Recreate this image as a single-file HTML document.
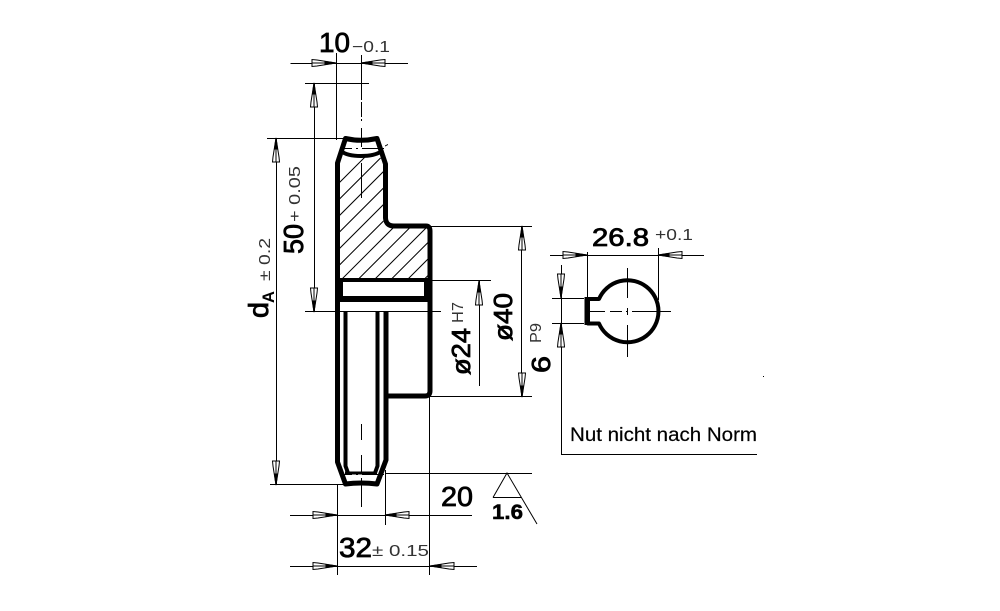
<!DOCTYPE html>
<html><head><meta charset="utf-8"><style>
html,body{margin:0;padding:0;background:#fff;width:1000px;height:611px;overflow:hidden}
svg{display:block}
text{font-family:"Liberation Sans",sans-serif;fill:#000}
.t{stroke:#000;stroke-width:1;fill:none;shape-rendering:crispEdges}
.k{stroke:#000;stroke-width:4;fill:none;stroke-linejoin:round}
.b{font-size:28px;stroke:#000;stroke-width:.8}
.s{font-size:16px;fill:#333}
</style></head><body>
<svg width="1000" height="611" viewBox="0 0 1000 611" xmlns="http://www.w3.org/2000/svg">
<defs>
<g id="a"><path d="M0,0L-19,-3L-24,-3.500L-24,3.500L-19,3Z" fill="#fff" stroke="#000" stroke-width="1"/><path d="M0,0L-11,-1.500L-11,1.500Z" fill="#000" stroke="#000" stroke-width="1"/><path d="M-11,0H-24" stroke="#000" stroke-width="1"/></g>
<clipPath id="h"><path d="M339,158Q361,156 383,158V220Q384,225 391,225H428V279H339Z"/></clipPath>
</defs>

<!-- hatch -->
<g clip-path="url(#h)" stroke="#000" stroke-width="1" fill="none">
<path d="M621,0L321,300M604.500,0L304.500,300M637.500,0L337.500,300M654,0L354,300M670.500,0L370.500,300M687,0L387,300M703.500,0L403.500,300M720,0L420,300M736.500,0L436.500,300M588,0L288,300M571.500,0L271.500,300M555,0L255,300M538.500,0L238.500,300M522,0L222,300"/>
</g>

<!-- thin lines -->
<path class="t" d="M290.500,63.500H408M336.500,53V140M305,83.500H369M267,138.500H345M314.500,83V312M276.500,138V485M305,311.500H441M430,226.500H532M430,396.500H532M430,280.500H491M521.500,226V397M479.500,281V386M429.500,397V575M337.500,485V575M385.500,470V525M385,473.500H532M270,484.500H345M290,515.500H472M290,566.500H477"/>
<path class="t" d="M361.500,55V100M361.500,102V117M361.500,119V121M361.500,128V147M361.500,163V198M361.500,424V440M361.500,455V472M361.500,478V507M340,148.500H352M356,148.500H358M362,148.500H384M385,146L388,144.500M340,474.500H352M356,474.500H358M362,474.500H384"/>

<!-- gear outline -->
<path class="k" style="stroke-width:5" d="M337.500,312V163L345.500,138.500Q361,142 377,138.500L385.500,164V218Q386,226 394,226H426Q430,226 430,231V391Q430,396 425,396H387"/>
<path class="k" d="M341,151Q347,156 361,156Q375,156 382,151"/>
<path class="k" d="M338,280H430"/>
<path class="k" style="stroke-width:6" d="M338,299H430"/>
<rect x="335" y="278" width="8" height="24" fill="#000"/>
<rect x="424" y="278" width="8" height="24" fill="#000"/>
<path class="k" style="stroke-width:5" d="M337.500,312V462L345.500,484Q361,482 377,484L386,460V312"/>
<path class="k" d="M345.500,312V466L348,473M377.500,312V466L375,473"/>
<path class="k" style="stroke-width:3" d="M345,473H377"/>

<!-- keyway section -->
<path class="k" d="M599,299H588V323.500H599A31,31 0 1 0 599,299Z"/>
<path class="k" style="stroke-width:5" d="M587,297V325"/>
<path class="t" d="M590,311.500H605M610,311.500H622M626,311.500H628M632,311.500H671M627.500,268V298M627.500,308V315M627.500,325V357M550,255.500H704M587.500,252V297M658.500,248V300M552,298.500H584M552,323.500H584M561.500,265V454M561,454.500H757M763,376.500H764"/>

<!-- arrows -->
<use href="#a" transform="translate(336,63)"/>
<use href="#a" transform="translate(361,63) rotate(180)"/>
<use href="#a" transform="translate(314,83) rotate(-90)"/>
<use href="#a" transform="translate(314,312) rotate(90)"/>
<use href="#a" transform="translate(276,138) rotate(-90)"/>
<use href="#a" transform="translate(276,485) rotate(90)"/>
<use href="#a" transform="translate(522,226) rotate(-90)"/>
<use href="#a" transform="translate(522,397) rotate(90)"/>
<use href="#a" transform="translate(479,281) rotate(-90)"/>
<use href="#a" transform="translate(337,515)"/>
<use href="#a" transform="translate(385,515) rotate(180)"/>
<use href="#a" transform="translate(337,566)"/>
<use href="#a" transform="translate(430,566) rotate(180)"/>
<use href="#a" transform="translate(587,255)"/>
<use href="#a" transform="translate(658,255) rotate(180)"/>
<use href="#a" transform="translate(561,298) rotate(90)"/>
<use href="#a" transform="translate(561,323) rotate(-90)"/>

<!-- roughness symbol -->
<path class="t" style="shape-rendering:auto" d="M493,497.500H521M493,497.500L507,473L537,524"/>

<!-- horizontal text -->
<text class="b" x="319" y="52" textLength="31" lengthAdjust="spacingAndGlyphs">10</text>
<text class="s" x="352" y="52" textLength="38" lengthAdjust="spacingAndGlyphs">−0.1</text>
<text class="b" x="441" y="506" textLength="32" lengthAdjust="spacingAndGlyphs">20</text>
<text x="492" y="519" font-size="21" font-weight="bold" stroke="#000" stroke-width=".5" textLength="31" lengthAdjust="spacingAndGlyphs">1.6</text>
<text class="b" x="339" y="557" textLength="33" lengthAdjust="spacingAndGlyphs">32</text>
<text class="s" x="372" y="556" textLength="57" lengthAdjust="spacingAndGlyphs">± 0.15</text>
<text class="b" style="font-size:25px" x="592" y="246" textLength="57" lengthAdjust="spacingAndGlyphs">26.8</text>
<text class="s" x="655" y="240" textLength="38" lengthAdjust="spacingAndGlyphs">+0.1</text>
<text x="570" y="441" font-size="19" stroke="#000" stroke-width=".2" textLength="187" lengthAdjust="spacingAndGlyphs">Nut nicht nach Norm</text>

<!-- rotated text -->
<text class="b" transform="translate(303,254) rotate(-90)" textLength="30" lengthAdjust="spacingAndGlyphs">50</text>
<text class="s" transform="translate(300,222) rotate(-90)" textLength="56" lengthAdjust="spacingAndGlyphs">+ 0.05</text>
<text class="b" transform="translate(268,318) rotate(-90)" textLength="16" lengthAdjust="spacingAndGlyphs">d</text>
<text transform="translate(274,303) rotate(-90)" font-size="17" font-weight="bold" textLength="12" lengthAdjust="spacingAndGlyphs">A</text>
<text class="s" transform="translate(270,281) rotate(-90)" textLength="43" lengthAdjust="spacingAndGlyphs">± 0.2</text>
<text class="b" style="font-size:26px" transform="translate(470,375) rotate(-90)" textLength="47" lengthAdjust="spacingAndGlyphs">ø24</text>
<text class="s" transform="translate(463,323) rotate(-90)" textLength="21" lengthAdjust="spacingAndGlyphs">H7</text>
<text class="b" style="font-size:26px" transform="translate(512,341) rotate(-90)" textLength="48" lengthAdjust="spacingAndGlyphs">ø40</text>
<text class="b" style="font-size:26px" transform="translate(550,373) rotate(-90)" textLength="17" lengthAdjust="spacingAndGlyphs">6</text>
<text class="s" transform="translate(541,343) rotate(-90)" textLength="20" lengthAdjust="spacingAndGlyphs">P9</text>
</svg>
</body></html>
